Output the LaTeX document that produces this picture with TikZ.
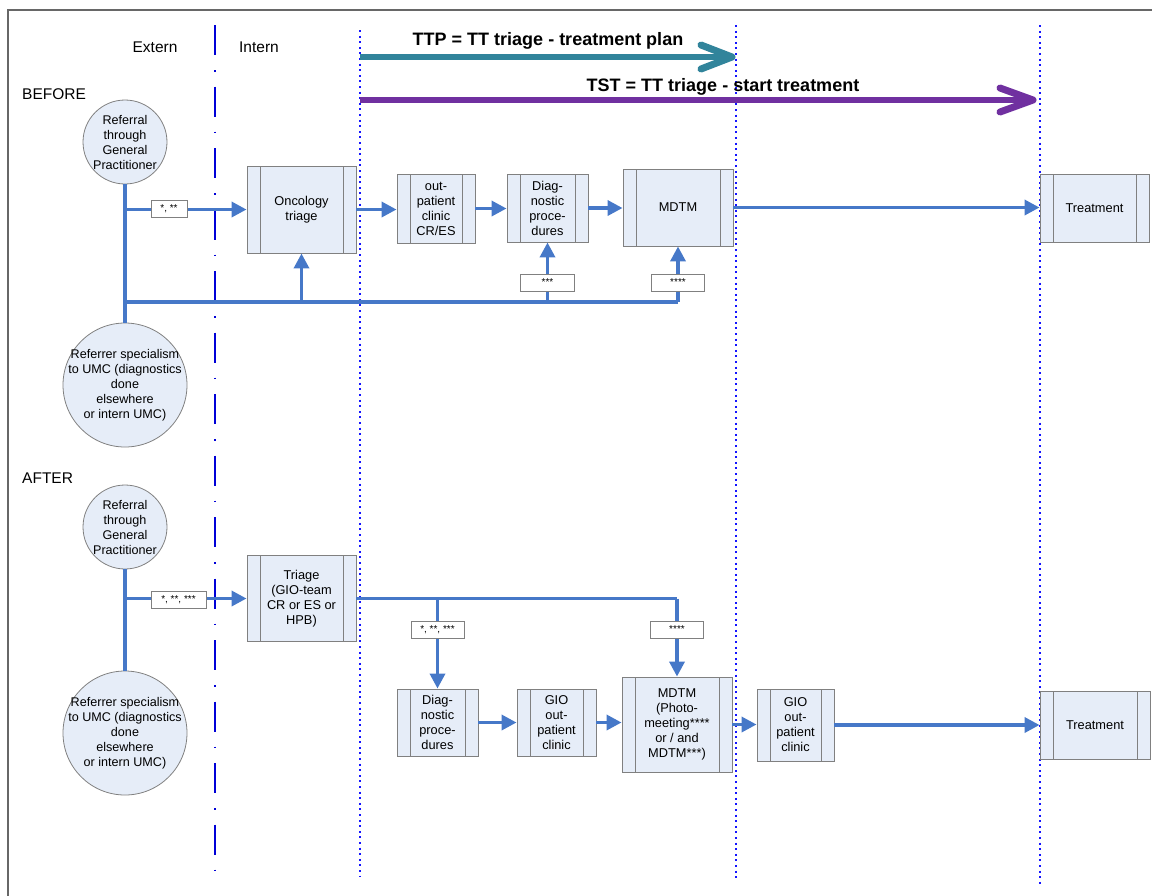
\documentclass[tikz,border=0pt]{standalone}
\usepackage{fontspec}
\setmainfont{Liberation Sans}
\usetikzlibrary{arrows.meta}
\definecolor{lineblue}{RGB}{70,120,200}
\definecolor{boxfill}{RGB}{230,237,248}
\definecolor{boxline}{RGB}{128,128,128}
\definecolor{ttpteal}{RGB}{49,132,155}
\definecolor{tstpurple}{RGB}{112,48,160}
\definecolor{sepblue}{RGB}{0,0,215}
\definecolor{dotblue}{RGB}{20,20,255}
\tikzset{
  proc/.style={rectangle, draw=boxline, fill=boxfill, line width=0.9pt, align=center,
    font=\fontsize{12.8}{15}\selectfont, inner sep=0pt,
    path picture={
      \draw[boxline, line width=0.9pt] ([xshift=13pt]path picture bounding box.south west) -- ([xshift=13pt]path picture bounding box.north west);
      \draw[boxline, line width=0.9pt] ([xshift=-13pt]path picture bounding box.south east) -- ([xshift=-13pt]path picture bounding box.north east);
    }},
  src/.style={circle, draw=boxline, fill=boxfill, line width=0.8pt, inner sep=0pt},
  srctext/.style={align=center, font=\fontsize{12.6}{15}\selectfont, inner sep=0pt},
  tag/.style={rectangle, draw=boxline, fill=white, line width=0.8pt, minimum height=17pt,
    inner sep=0pt, font=\fontsize{10}{11}\selectfont},
  conn/.style={draw=lineblue, line width=3.5pt},
  flow/.style={conn, -{Triangle[length=15pt,width=15pt]}},
  sectlabel/.style={font=\fontsize{15.5}{18}\selectfont, inner sep=0pt},
  headlabel/.style={font=\bfseries\fontsize{18}{20}\selectfont, inner sep=0pt},
  dotline/.style={dotblue, line width=2pt, dash pattern=on 2pt off 3.6pt},
  sepline/.style={sepblue, line width=2pt, dash pattern=on 30pt off 15pt on 1.5pt off 15pt},
  chev/.style={line width=7pt, line cap=round, line join=round}
}
\begin{document}
\begin{tikzpicture}[x=1pt, y=-1pt]
\useasboundingbox (0,0) rectangle (1152,895);
% frame
\draw[boxline!80!black, line width=1.3pt] (8,10) rectangle (1165,910);

% header labels
\node[sectlabel] (extern) at (155,47) {Extern};
\node[sectlabel] (intern) at (259,47) {Intern};
\node[sectlabel, anchor=west] (before) at (22,94) {BEFORE};
\node[sectlabel, anchor=west] (after) at (22,478) {AFTER};

% separators
\draw[sepline] (215,25) -- (215,877);
\draw[dotline] (360,30) -- (360,876);
\draw[dotline] (736,25) -- (736,880);
\draw[dotline] (1040,25) -- (1040,886);

% top measurement arrows
\coordinate (ttpS) at (360,57);
\coordinate (ttpE) at (732,57);
\coordinate (tstS) at (360,100);
\coordinate (tstE) at (1033,100);
\draw[ttpteal, line width=6pt] (ttpS) -- ([xshift=-4pt]ttpE);
\draw[ttpteal, chev] ([xshift=-31pt,yshift=12pt]ttpE) -- (ttpE) -- ([xshift=-31pt,yshift=-12pt]ttpE);
\draw[tstpurple, line width=6pt] (tstS) -- ([xshift=-4pt]tstE);
\draw[tstpurple, chev] ([xshift=-33pt,yshift=12pt]tstE) -- (tstE) -- ([xshift=-33pt,yshift=-12pt]tstE);
\node[headlabel] (ttp) at (548,41) {TTP = TT triage - treatment plan};
\node[headlabel] (tst) at (723,87) {TST = TT triage - start treatment};

% ---------------- BEFORE ----------------
\node[src, minimum size=84pt] (gp1) at (125,142) {};
\node[srctext] at (gp1.center) {Referral\\through\\General\\Practitioner};
\node[src, minimum size=124pt] (sp1) at (125,385) {};
\node[srctext] at (sp1.center) {Referrer specialism\\to UMC (diagnostics\\done\\elsewhere\\or intern UMC)};

\node[proc, minimum width=109pt, minimum height=87pt] (onc) at (301.5,209.5) {Oncology\\triage};
\node[proc, minimum width=78pt, minimum height=69pt] (opc) at (436,208.5) {out-\\patient\\clinic\\CR/ES};
\node[proc, minimum width=81pt, minimum height=68pt] (dia1) at (547.5,208) {Diag-\\nostic\\proce-\\dures};
\node[proc, minimum width=110pt, minimum height=77pt] (mdtm1) at (678,207.5) {MDTM};
\node[proc, minimum width=109pt, minimum height=68pt] (treat1) at (1094.5,208) {Treatment};

\coordinate (bus1) at (125,302);
\draw[conn] (gp1.south) -- (sp1.north);
\draw[flow] (gp1.south |- onc.west) -- (onc.west);
\draw[conn] (bus1) -- (bus1 -| mdtm1.south);
\draw[flow] (bus1 -| onc.south) -- (onc.south);
\draw[flow] (bus1 -| dia1.south) -- (dia1.south);
\draw[flow] (bus1 -| mdtm1.south) -- (mdtm1.south);
\draw[flow] (onc.east) -- (onc.east -| opc.west);
\draw[flow] (opc.east) -- (opc.east -| dia1.west);
\draw[flow] (dia1.east) -- (dia1.east -| mdtm1.west);
\draw[flow] (mdtm1.east) -- (mdtm1.east -| treat1.west);

\node[tag, minimum width=36pt] (lb1) at (169,209) {*, **};
\node[tag, minimum width=54pt] (lb2) at (547.5,282.5) {***};
\node[tag, minimum width=53pt] (lb3) at (678,282.5) {****};

% ---------------- AFTER ----------------
\node[src, minimum size=84pt] (gp2) at (125,527) {};
\node[srctext] at (gp2.center) {Referral\\through\\General\\Practitioner};
\node[src, minimum size=124pt] (sp2) at (125,733) {};
\node[srctext] at (sp2.center) {Referrer specialism\\to UMC (diagnostics\\done\\elsewhere\\or intern UMC)};

\node[proc, minimum width=109pt, minimum height=86pt] (tri) at (301.5,598.5) {Triage\\(GIO-team\\CR or ES or\\HPB)};
\node[proc, minimum width=81pt, minimum height=67pt] (dia2) at (437.5,722.5) {Diag-\\nostic\\proce-\\dures};
\node[proc, minimum width=79pt, minimum height=67pt] (gio1) at (556.5,722.5) {GIO\\out-\\patient\\clinic};
\node[proc, minimum width=110pt, minimum height=95pt] (mdtm2) at (677,724.5) {MDTM\\(Photo-\\meeting****\\or / and\\MDTM***)};
\node[proc, minimum width=77pt, minimum height=72pt] (gio2) at (795.5,725) {GIO\\out-\\patient\\clinic};
\node[proc, minimum width=110pt, minimum height=68pt] (treat2) at (1095,725) {Treatment};

\draw[conn] (gp2.south) -- (sp2.north);
\draw[flow] (gp2.south |- tri.west) -- (tri.west);
\draw[conn] (tri.east) -- (tri.east -| mdtm2.north);
\draw[flow] (tri.east -| dia2.north) -- (dia2.north);
\draw[flow] (tri.east -| mdtm2.north) -- (mdtm2.north);
\draw[flow] (dia2.east) -- (dia2.east -| gio1.west);
\draw[flow] (gio1.east) -- (gio1.east -| mdtm2.west);
\draw[flow] (mdtm2.east) -- (mdtm2.east -| gio2.west);
\draw[flow] (gio2.east) -- (gio2.east -| treat2.west);

\node[tag, minimum width=55pt] (lb4) at (178.5,599.5) {*, **, ***};
\node[tag, minimum width=53pt] (lb5) at (437.5,629.5) {*, **, ***};
\node[tag, minimum width=53pt] (lb6) at (677,629.5) {****};
\end{tikzpicture}
\end{document}
